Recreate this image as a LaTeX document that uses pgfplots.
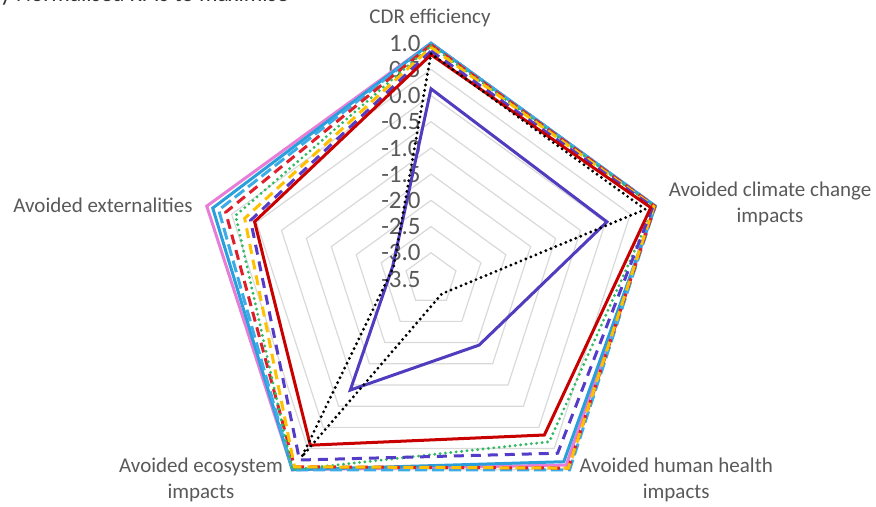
\documentclass[border=0pt]{standalone}
\usepackage{pgfplots}
\pgfplotsset{compat=1.18}
\usepackage{pgfplotstable}
\usepackage{fontspec}
\setmainfont{Carlito}

\definecolor{gridc}{RGB}{217,217,217}
\definecolor{lblc}{RGB}{89,89,89}
\definecolor{titc}{RGB}{50,50,50}
\definecolor{cpink}{RGB}{232,125,215}
\definecolor{ccyanS}{RGB}{41,160,220}
\definecolor{ccyanD}{RGB}{60,172,230}
\definecolor{credD}{RGB}{222,30,40}
\definecolor{cgreen}{RGB}{50,185,100}
\definecolor{cyellow}{RGB}{255,192,0}
\definecolor{cpurpD}{RGB}{85,60,200}
\definecolor{credS}{RGB}{200,0,0}
\definecolor{cpurpS}{RGB}{80,60,190}

% spoke directions (degrees): CDR efficiency, climate change, human health, ecosystem, externalities
\pgfplotstableread{
a    u
90   1
18   1
-54  1
-126 1
162  1
}\angles

% normalised KPI scores per scenario, one column per series
\pgfplotstableread{
a    pink cyanS cyanD redD green yellow purpD redS  purpS  black
90   1.00 1.00  1.00  0.97 0.95  0.92   0.85  0.78  0.13   0.80
18   1.00 1.00  1.00  0.99 0.98  0.97   0.95  0.91  0.03   0.80
-54  0.89 0.81  1.00  0.96 0.34  0.96   0.61  0.18  -1.94  -3.15
-126 1.00 1.00  1.00  0.93 1.00  0.93   0.77  0.42  -0.88  0.70
162  1.00 0.88  0.76  0.62 0.42  0.24   0.12  0.04  -2.73  -2.75
}\kpi

\pgfplotsset{
  table/radar/.style={
    x expr={(\thisrow{#1}+3.5)*cos(\thisrow{a})},
    y expr={(\thisrow{#1}+3.5)*sin(\thisrow{a})}},
  dsh/.style={line width=1.5pt,dash pattern=on 5pt off 3pt},
  dts/.style={line width=1.6pt,line cap=round,dash pattern=on 0pt off 2.7pt},
}

\begin{document}
\begin{tikzpicture}
\begin{axis}[width=438pt,height=253.5pt,scale only axis,hide axis,clip=false,
  xmin=-8.225,xmax=8.492,ymin=-4.351,ymax=5.324,
  line join=miter]
  % pentagonal grid rings from -3.0 to 1.0
  \pgfplotsinvokeforeach{0.5,1.0,1.5,2.0,2.5,3.0,3.5,4.0,4.5}{
    \addplot[gridc,line width=0.6pt]
      table[x expr={#1*\thisrow{u}*cos(\thisrow{a})},y expr={#1*\thisrow{u}*sin(\thisrow{a})}] {\angles} --cycle;
  }
  % scale labels along the top spoke
  \begin{scope}[every node/.style={anchor=east,text=lblc,font=\fontsize{12.5}{14}\selectfont,inner sep=0pt}]
    \node at (axis cs:-0.19,4.5) {1.0};
    \node at (axis cs:-0.19,4.0) {0.5};
    \node at (axis cs:-0.19,3.5) {0.0};
    \node at (axis cs:-0.19,3.0) {-0.5};
    \node at (axis cs:-0.19,2.5) {-1.0};
    \node at (axis cs:-0.19,2.0) {-1.5};
    \node at (axis cs:-0.19,1.5) {-2.0};
    \node at (axis cs:-0.19,1.0) {-2.5};
    \node at (axis cs:-0.19,0.5) {-3.0};
    \node at (axis cs:-0.19,0.0) {-3.5};
  \end{scope}
  % series
  \addplot[cpink,line width=1.5pt] table[radar=pink] {\kpi} --cycle;
  \addplot[ccyanS,line width=1.5pt] table[radar=cyanS] {\kpi} --cycle;
  \addplot[ccyanD,dsh,dash pattern=on 6pt off 2.5pt] table[radar=cyanD] {\kpi} --cycle;
  \addplot[credD,dsh] table[radar=redD] {\kpi} --cycle;
  \addplot[cgreen,dts] table[radar=green] {\kpi} --cycle;
  \addplot[cyellow,dsh] table[radar=yellow] {\kpi} --cycle;
  \addplot[cpurpD,dsh,dash pattern=on 5pt off 3.5pt] table[radar=purpD] {\kpi} --cycle;
  \addplot[credS,line width=1.5pt] table[radar=redS] {\kpi} --cycle;
  \addplot[cpurpS,line width=1.5pt] table[radar=purpS] {\kpi} --cycle;
  \addplot[black,dts] table[radar=black] {\kpi} --cycle;
  % category labels
  \begin{scope}[every node/.style={text=lblc,font=\fontsize{10.5}{13}\selectfont,align=center,inner sep=0pt}]
    \node at (axis cs:-0.02,4.98) {CDR efficiency};
    \node at (axis cs:6.47,1.43) {Avoided climate change\\impacts};
    \node at (axis cs:4.68,-3.84) {Avoided human health\\impacts};
    \node at (axis cs:-4.39,-3.84) {Avoided ecosystem\\impacts};
    \node at (axis cs:-6.26,1.41) {Avoided externalities};
  \end{scope}
  \node[anchor=base west,inner sep=0pt,text=titc,font=\fontsize{11.6}{14}\selectfont]
    at (axis cs:-8.225,5.30) {y Normalised KPIs to maximise};
  \coordinate (bl) at (rel axis cs:0,0);
  \coordinate (tr) at (rel axis cs:1,1);
\end{axis}
\pgfresetboundingbox
\useasboundingbox (bl) rectangle (tr);
\end{tikzpicture}
\end{document}
